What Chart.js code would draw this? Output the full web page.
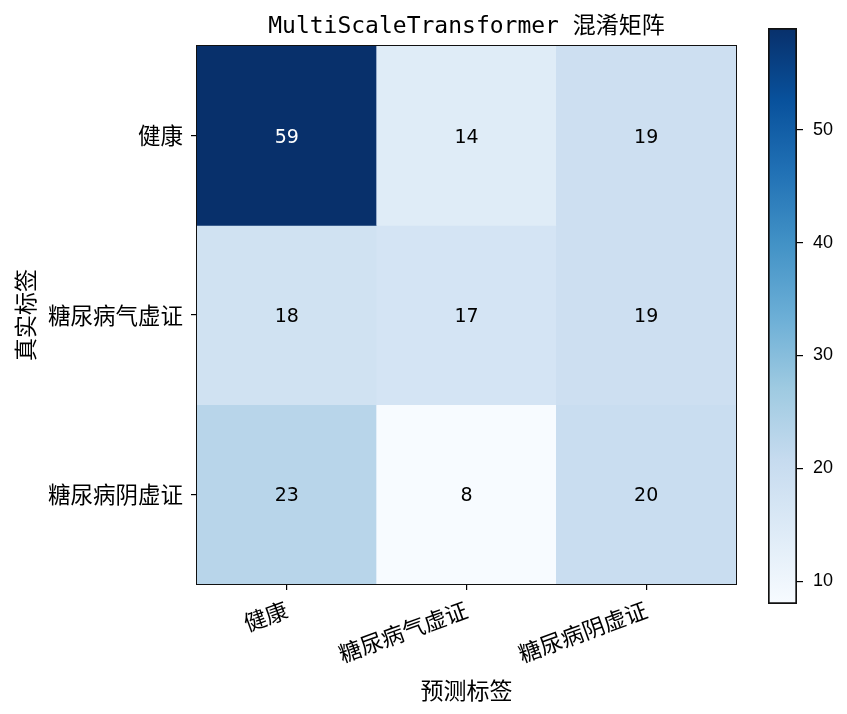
<!DOCTYPE html>
<html>
<head>
<meta charset="utf-8">
<script src="https://cdn.jsdelivr.net/npm/chart.js@4.4.1/dist/chart.umd.min.js"></script>
<style>
  html, body { margin: 0; padding: 0; background: #fff; overflow: hidden; }
  #wrap { position: relative; width: 847px; height: 714px; }
  #wrap canvas { position: absolute; left: 0; top: 0; }
</style>
</head>
<body>
<div id="wrap">
  <canvas id="main" width="847" height="714"></canvas>
  <canvas id="cbar" width="847" height="714"></canvas>
</div>
<script>
// ---- data ----
const titleText = 'MultiScaleTransformer 混淆矩阵';
const rowLabels = ['健康', '糖尿病气虚证', '糖尿病阴虚证'];
const colLabels = ['健康', '糖尿病气虚证', '糖尿病阴虚证'];
const row0 = [59, 14, 19];
const row1 = [18, 17, 19];
const row2 = [23, 8, 20];
const rows = [row0, row1, row2];
const colorbarTicks = [10, 20, 30, 40, 50];
const vmin = 8;
const vmax = 59;
const xTitle = '预测标签';
const yTitle = '真实标签';

// matplotlib "Blues" anchors
const blues = ['#f7fbff', '#deebf7', '#c6dbef', '#9ecae1', '#6baed6', '#4292c6', '#2171b5', '#08519c', '#08306b'];
function hexToRgb(h) { return [1, 3, 5].map(i => parseInt(h.slice(i, i + 2), 16)); }
function colorFor(v) {
  let t = (v - vmin) / (vmax - vmin);
  t = Math.max(0, Math.min(1, t));
  const p = t * (blues.length - 1);
  const i = Math.min(Math.floor(p), blues.length - 2);
  const f = p - i;
  const a = hexToRgb(blues[i]), b = hexToRgb(blues[i + 1]);
  const c = a.map((x, k) => Math.round(x + (b[k] - x) * f));
  return `rgb(${c[0]},${c[1]},${c[2]})`;
}

const CJK = '"Noto Sans CJK SC", "DejaVu Sans", sans-serif';
const BLACK = '#000';
const FRAME = '#111';

const cellText = {
  id: 'cellText',
  afterDatasetsDraw(chart) {
    const ctx = chart.ctx;
    const thresh = Math.max(...rows.flat()) / 2;
    ctx.save();
    ctx.font = '19px "DejaVu Sans", sans-serif';
    ctx.textAlign = 'center';
    ctx.textBaseline = 'middle';
    chart.data.datasets.forEach((ds, r) => {
      const meta = chart.getDatasetMeta(r);
      meta.data.forEach((el, c) => {
        const v = rows[r][c];
        const cy = (el.y + el.base) / 2;
        ctx.fillStyle = v > thresh ? '#fff' : '#000';
        ctx.fillText(String(v), el.x, cy + 2);
      });
    });
    ctx.restore();
  },
  afterDraw(chart) {
    const ctx = chart.ctx;
    const a = chart.chartArea;
    ctx.save();
    ctx.font = '23px "DejaVu Sans Mono", "Noto Sans CJK SC", monospace';
    ctx.fillStyle = '#000';
    ctx.textAlign = 'center';
    ctx.textBaseline = 'middle';
    ctx.fillText(titleText, (a.left + a.right) / 2, 27);
    ctx.restore();
  }
};

new Chart(document.getElementById('main'), {
  type: 'bar',
  data: {
    labels: colLabels,
    datasets: rows.map((vals, r) => ({
      label: rowLabels[r],
      data: vals.map(() => [r - 0.5, r + 0.5]),
      backgroundColor: vals.map(colorFor),
      borderWidth: 0,
      grouped: false,
      barPercentage: 1,
      categoryPercentage: 1
    }))
  },
  options: {
    responsive: false,
    animation: false,
    devicePixelRatio: 1,
    layout: { padding: { top: 46, right: 111, bottom: 0, left: 0 } },
    plugins: { legend: { display: false }, tooltip: { enabled: false }, title: { display: false } },
    scales: {
      x: {
        type: 'category',
        position: 'bottom',
        offset: true,
        z: 1,
        grid: { offset: false, drawOnChartArea: false, drawTicks: true, tickLength: 6, color: BLACK, lineWidth: 1.2 },
        border: { display: true, color: FRAME, width: 2 },
        ticks: { color: BLACK, font: { family: CJK, size: 22.5 }, minRotation: 20, maxRotation: 20, padding: 6 },
        title: { display: true, text: xTitle, color: BLACK, font: { family: CJK, size: 23 }, padding: { top: 0, bottom: 10 } },
        afterFit: s => { s.height = 130; }
      },
      y: {
        type: 'linear',
        position: 'left',
        min: -0.5,
        max: 2.5,
        reverse: true,
        z: 1,
        afterBuildTicks: s => { s.ticks = rowLabels.map((_, i) => ({ value: i })); },
        grid: { drawOnChartArea: false, drawTicks: true, tickLength: 6, color: BLACK, lineWidth: 1.2 },
        border: { display: true, color: FRAME, width: 2 },
        ticks: { color: BLACK, font: { family: CJK, size: 22.5 }, padding: 8, callback: v => rowLabels[v] },
        title: { display: true, text: yTitle, color: BLACK, font: { family: CJK, size: 23 }, padding: { top: 11, bottom: 0 } },
        afterFit: s => { s.width = 197; }
      },
      x2: {
        type: 'category',
        position: 'top',
        labels: colLabels,
        z: 1,
        grid: { display: false },
        ticks: { display: false },
        border: { display: true, color: FRAME, width: 2 },
        afterFit: s => { s.height = 0; }
      },
      y2: {
        type: 'linear',
        position: 'right',
        min: -0.5,
        max: 2.5,
        z: 1,
        grid: { display: false },
        ticks: { display: false },
        border: { display: true, color: FRAME, width: 2 },
        afterFit: s => { s.width = 0; }
      }
    }
  },
  plugins: [cellText]
});

new Chart(document.getElementById('cbar'), {
  type: 'bar',
  data: {
    labels: [''],
    datasets: [{
      data: [[vmin, vmax]],
      backgroundColor: (c) => {
        const chart = c.chart;
        const a = chart.chartArea;
        if (!a) return blues[0];
        const g = chart.ctx.createLinearGradient(0, a.bottom, 0, a.top);
        blues.forEach((col, i) => g.addColorStop(i / (blues.length - 1), col));
        return g;
      },
      borderColor: FRAME,
      borderWidth: 2,
      borderSkipped: false,
      barPercentage: 1,
      categoryPercentage: 1
    }]
  },
  options: {
    responsive: false,
    animation: false,
    devicePixelRatio: 1,
    layout: { padding: { top: 28, right: 0, bottom: 110, left: 768 } },
    plugins: { legend: { display: false }, tooltip: { enabled: false } },
    scales: {
      x: { display: false },
      y: {
        type: 'linear',
        position: 'right',
        min: vmin,
        max: vmax,
        afterBuildTicks: s => { s.ticks = colorbarTicks.map(v => ({ value: v })); },
        grid: { drawOnChartArea: false, drawTicks: true, tickLength: 6, color: BLACK, lineWidth: 1.2 },
        border: { display: false },
        ticks: { color: BLACK, font: { family: '"Liberation Sans", "DejaVu Sans", sans-serif', size: 18 }, padding: 10 },
        afterFit: s => { s.width = 50; }
      }
    }
  }
});
</script>
</body>
</html>
